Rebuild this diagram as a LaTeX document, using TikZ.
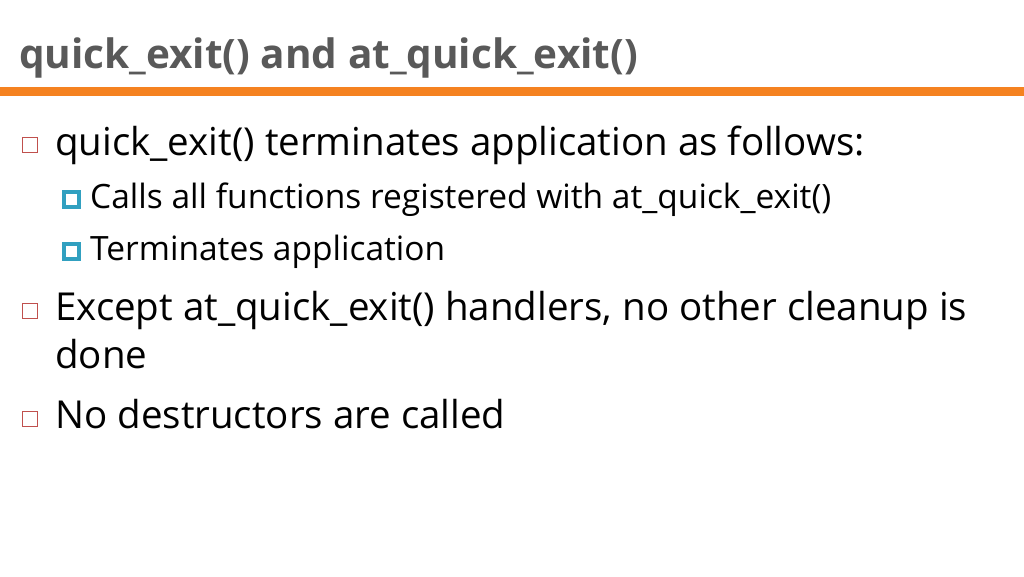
\documentclass[tikz,border=0pt]{standalone}
\usepackage{fontspec}
\setmainfont{Open Sans}
\definecolor{orng}{HTML}{F58220}
\definecolor{ttl}{HTML}{595959}
\definecolor{redb}{HTML}{C0504D}
\definecolor{blueb}{HTML}{31A0C0}
\begin{document}
\begin{tikzpicture}[x=1pt,y=-1pt,
  lone/.style={anchor=base west,inner sep=0pt,font=\fontsize{38.5}{44}\selectfont},
  ltwo/.style={anchor=base west,inner sep=0pt,font=\fontsize{33.5}{38}\selectfont},
  rbul/.style={draw=redb,line width=1.3pt,minimum size=15pt,inner sep=0pt},
  bbul/.style={draw=blueb,fill=white,line width=4pt,minimum size=15pt,inner sep=0pt}]
\useasboundingbox (0,0) rectangle (1024,576);
\fill[white] (0,0) rectangle (1024,576);
\node[anchor=base west,inner sep=0pt,text=ttl,font=\fontsize{40.5}{46}\selectfont\bfseries] (title) at (19,68) {quick\_exit() and at\_quick\_exit()};
\fill[orng] (0,87) rectangle (1024,96);
\node[rbul] (b1) at (30,145) {};
\node[lone] (t1) at (55,155) {quick\_exit() terminates application as follows:};
\node[bbul] (b2) at (71,199) {};
\node[ltwo] (t2) at (90,208) {Calls all functions registered with at\_quick\_exit()};
\node[bbul] (b3) at (71,251) {};
\node[ltwo] (t3) at (90,260) {Terminates application};
\node[rbul] (b4) at (30,311) {};
\node[lone] (t4) at (55,320) {Except at\_quick\_exit() handlers, no other cleanup is};
\node[lone] (t5) at (55,368) {done};
\node[rbul] (b6) at (30,419) {};
\node[lone] (t6) at (55,428) {No destructors are called};
\end{tikzpicture}
\end{document}
